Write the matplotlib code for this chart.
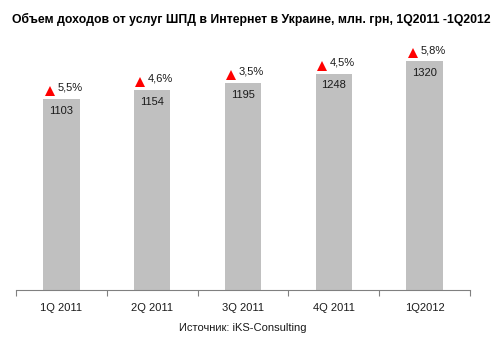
import matplotlib.pyplot as plt
import matplotlib.transforms as mtransforms
import numpy as np

plt.rcParams['font.family'] = ['Liberation Sans', 'DejaVu Sans']

# ---- data ----
quarters = ['1Q 2011', '2Q 2011', '3Q 2011', '4Q 2011', '1Q2012']
revenue = [1103, 1154, 1195, 1248, 1320]
growth = ['5,5%', '4,6%', '3,5%', '4,5%', '5,8%']

fig = plt.figure(figsize=(5.0, 3.43), dpi=100)
ax = fig.add_axes([0.032, 0.1545, 0.908, 0.758])

x = np.arange(len(quarters))
ax.bar(x, revenue, width=0.4, color='#c0c0c0', zorder=2)

ax.set_xlim(-0.5, len(quarters) - 0.5)
ax.set_ylim(0, 1500)

# value labels inside bars, growth with red triangle above
up = mtransforms.ScaledTranslation(0, 5.8 / 72, fig.dpi_scale_trans)
for xi, v, g in zip(x, revenue, growth):
    ax.annotate(str(v), (xi, v), xytext=(0, -8.5), textcoords='offset points',
                ha='center', va='center', fontsize=8, color='#1a1a1a')
    ax.plot(xi - 0.13, v, marker='^', color='#ff0000', markersize=7.5,
            markeredgewidth=0, transform=ax.transData + up,
            clip_on=False, zorder=3)
    ax.annotate(g, (xi - 0.045, v), xytext=(0, 8), textcoords='offset points',
                ha='left', va='center', fontsize=8, color='#1a1a1a')

# axis styling (Excel-like)
for s in ['top', 'right', 'left']:
    ax.spines[s].set_visible(False)
ax.spines['bottom'].set_color('#808080')
ax.set_yticks([])
ax.set_xticks(np.arange(-0.5, len(quarters), 1.0))
ax.set_xticklabels([])
ax.tick_params(axis='x', which='major', length=4, color='#808080', direction='out')
ax.set_xticks(x, minor=True)
ax.set_xticklabels(quarters, minor=True, fontsize=8, color='#1a1a1a')
ax.tick_params(axis='x', which='minor', length=0, pad=9)

fig.text(0.024, 0.942, 'Объем доходов от услуг ШПД в Интернет в Украине, млн. грн, 1Q2011 -1Q2012',
         fontsize=8.8, fontweight='bold', ha='left', va='center', color='#000000')
fig.text(0.486, 0.044, 'Источник: iKS-Consulting', fontsize=8, ha='center', va='center',
         color='#1a1a1a')

fig.savefig('out.png', dpi=100)
